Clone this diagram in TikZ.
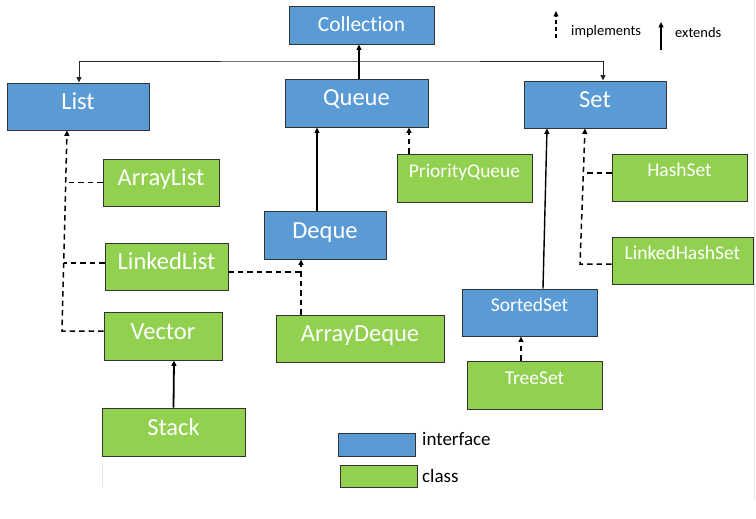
\documentclass[tikz,border=0pt]{standalone}
\usepackage{fontspec}
\setmainfont{Carlito}[Ligatures={NoCommon}]
\usetikzlibrary{arrows.meta}
\definecolor{ifblue}{HTML}{5B9BD5}
\definecolor{clgreen}{HTML}{92D050}
\definecolor{edgecol}{HTML}{333333}
\begin{document}
\begin{tikzpicture}[x=1pt,y=-1pt,
  box/.style={draw=edgecol, line width=0.9pt, inner sep=0pt, text=white, anchor=center},
  iface/.style={box, fill=ifblue},
  cls/.style={box, fill=clgreen},
  big/.style={font=\fontsize{24.5}{29}\selectfont, text height=6pt, text depth=0pt},
  small/.style={font=\fontsize{19.5}{23}\selectfont, text height=0pt, text depth=2pt},
  tip/.style={-{Triangle[length=5.5pt,width=5pt]}},
  ext/.style={tip, line width=1.4pt},
  impl/.style={tip, line width=1.5pt, dash pattern=on 5.5pt off 4pt},
  dline/.style={line width=1.5pt, dash pattern=on 5.5pt off 4pt},
  legtext/.style={anchor=west, inner sep=0pt, text=black},
  faint/.style={draw=black!10, line width=0.8pt}
]
\useasboundingbox (0,0) rectangle (756,519);

% interfaces
\node[iface, font=\fontsize{21.5}{26}\selectfont, text height=14pt, text depth=0pt,
      minimum width=145pt, minimum height=38pt] (collection) at (361.5,25) {Collection};
\node[iface, big, minimum width=142pt, minimum height=47pt] (list) at (78,106.5) {List};
\node[iface, big, minimum width=143pt, minimum height=48pt] (queue) at (356.5,103) {Queue};
\node[iface, big, minimum width=142pt, minimum height=47pt] (set) at (595,104.5) {Set};
\node[iface, big, minimum width=122pt, minimum height=48pt] (deque) at (325,235) {Deque};
\node[iface, small, minimum width=135pt, minimum height=47pt] (sortedset) at (529.5,312.5) {SortedSet};

% classes
\node[cls, big, minimum width=116pt, minimum height=47pt] (arraylist) at (161,182.5) {ArrayList};
\node[cls, big, minimum width=123pt, minimum height=47pt] (linkedlist) at (166.5,266.5) {LinkedList};
\node[cls, big, minimum width=118pt, minimum height=48pt] (vector) at (163,336) {Vector};
\node[cls, big, minimum width=143pt, minimum height=48pt] (stack) at (173.5,432) {Stack};
\node[cls, big, minimum width=168pt, minimum height=47pt] (arraydeque) at (360,338.5) {ArrayDeque};
\node[cls, small, minimum width=135pt, minimum height=48pt] (pq) at (464.5,178) {PriorityQueue};
\node[cls, small, minimum width=135pt, minimum height=47pt] (hashset) at (679.5,177.5) {HashSet};
\node[cls, small, minimum width=141pt, minimum height=47pt] (lhs) at (682.5,260.5) {LinkedHashSet};
\node[cls, small, minimum width=135pt, minimum height=48pt] (treeset) at (534.5,385) {TreeSet};

% Collection level
\coordinate (hub) at (359,61);
\draw[{Triangle[length=5.5pt,width=5pt]}-{Triangle[length=5.5pt,width=5pt]}, line width=0.9pt, draw=black!85]
  ([xshift=1pt]list.north) |- (hub) -| ([xshift=8pt]set.north);
\draw[ext, line width=1.2pt] ([xshift=2.5pt]queue.north) -- ([xshift=2.5pt]queue.north |- collection.south);

% Queue branch
\draw[ext] ([xshift=-8pt]deque.north) -- ([xshift=-8pt]deque.north |- queue.south);
\draw[impl] ([xshift=-55.5pt]pq.north) -- ([xshift=-55.5pt]pq.north |- queue.south);
\coordinate (dj) at (301,272);
\draw[dline] ([yshift=-5.5pt]linkedlist.east) -- (dj);
\draw[impl] ([xshift=-59pt]arraydeque.north) -- (dj) -- ([xshift=-24pt]deque.south);

% List branch
\coordinate (lv) at (62,331);
\coordinate (la) at (65.7,182.5);
\coordinate (ll) at (63.7,263);
\draw[impl] ([yshift=5pt]vector.west) -- (lv) -- ([xshift=-11pt]list.south);
\draw[dline] (arraylist.west) -- (la);
\draw[dline] ([yshift=3.5pt]linkedlist.west) -- (ll);
\draw[ext, line width=1.8pt] (stack.north) -- ([xshift=11pt]vector.south);

% Set branch
\coordinate (sv) at (580,264);
\coordinate (sh) at (583.3,173);
\draw[impl] ([yshift=-3.5pt]lhs.west) -- (sv) -- ([xshift=-10pt]set.south);
\draw[dline] ([yshift=4.5pt]hashset.west) -- (sh);
\draw[ext] ([xshift=13.5pt]sortedset.north) -- ([xshift=-48pt]set.south);
\draw[impl] ([xshift=-13.5pt]treeset.north) -- ([xshift=-8.5pt]sortedset.south);

% legend: arrows
\coordinate (i0) at (556,38);
\coordinate (i1) at (556,11);
\draw[impl, line width=1.2pt, dash pattern=on 4pt off 3pt] (i0) -- (i1);
\node[legtext, font=\fontsize{14.5}{17}\selectfont] (impltext) at (571,32) {implements};
\coordinate (e0) at (661,50);
\coordinate (e1) at (661,22);
\draw[ext] (e0) -- (e1);
\node[legtext, font=\fontsize{14.5}{17}\selectfont] (exttext) at (675,33) {extends};

% legend: boxes
\node[iface, minimum width=77pt, minimum height=23pt] (legi) at (376.5,444.5) {};
\node[legtext, font=\fontsize{19}{23}\selectfont] (legitext) at (422,439.5) {interface};
\node[cls, minimum width=77pt, minimum height=22pt] (legc) at (378.5,476) {};
\node[legtext, font=\fontsize{19}{23}\selectfont] (legctext) at (422,475.5) {class};

% faint edges
\coordinate (f0) at (754,0);
\coordinate (f1) at (754,500);
\draw[faint] (f0) -- (f1);
\coordinate (g0) at (102,463);
\coordinate (g1) at (102,487);
\draw[faint] (g0) -- (g1);
\end{tikzpicture}
\end{document}
